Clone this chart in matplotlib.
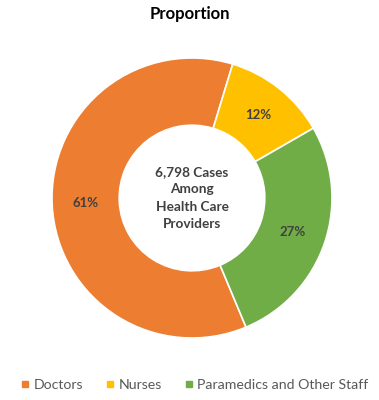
import matplotlib
matplotlib.use("Agg")
from matplotlib import pyplot as plt
from matplotlib.lines import Line2D

plt.rcParams['font.family'] = ['Lato', 'DejaVu Sans']

# 値
categories = ["Doctors", "Nurses", "Paramedics and Other Staff"]
shares = [61, 12, 27]
colors = ["#ED7D31", "#FFC000", "#70AD47"]
center_text = "6,798 Cases\nAmong\nHealth Care\nProviders"
title = "Proportion"

fig = plt.figure(figsize=(3.79, 4.0), dpi=100)
ax = fig.add_axes([52 / 379, 62 / 400, 280 / 379, 280 / 400])

wedges, texts, autotexts = ax.pie(
    shares, colors=colors, startangle=-67.3, counterclock=False,
    autopct="%d%%", pctdistance=0.76,
    wedgeprops=dict(width=0.48, edgecolor="white", linewidth=1.2),
    textprops=dict(color="#404040", fontsize=9.5, fontweight="bold"))
ax.set_xlim(-1, 1)
ax.set_ylim(-1, 1)
ax.set_aspect("equal")

ax.text(0, 0, center_text, ha="center", va="center", fontsize=9.8,
        fontweight="bold", color="#404040", linespacing=1.55)

fig.text(0.5, 1 - 14 / 400, title, ha="center", va="center",
         fontsize=12, fontweight="bold", color="black")

# 凡例
handles = [Line2D([], [], marker="s", linestyle="none", markersize=4.5,
                  markerfacecolor=c, markeredgecolor=c) for c in colors]
fig.legend(handles, categories, loc="center", bbox_to_anchor=(0.51, 1 - 385 / 400),
           ncol=3, frameon=False, fontsize=10.2, labelcolor="#595959",
           handletextpad=0.1, columnspacing=1.4, handlelength=1.0)

fig.savefig("out.png", dpi=100)
